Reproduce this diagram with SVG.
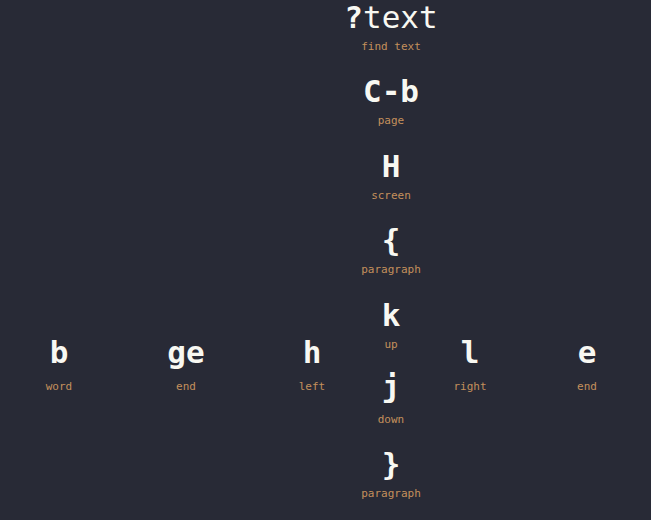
<svg xmlns="http://www.w3.org/2000/svg" width="651" height="520" viewBox="0 0 651 520">
<style>
.k{font-family:"DejaVu Sans Mono","Liberation Mono",monospace;font-size:31px;font-weight:bold;fill:#f8f8f2;text-anchor:middle}
.l{font-family:"DejaVu Sans Mono","Liberation Mono",monospace;font-size:11px;fill:#c4905c;text-anchor:middle}
</style>
<rect width="651" height="520" fill="#282a36"/>
<g id="find"><text class="k" x="391" y="28">?<tspan font-weight="normal">text</tspan></text><text class="l" x="391" y="50">find text</text></g>
<g id="page"><text class="k" x="391" y="102">C-b</text><text class="l" x="391" y="124">page</text></g>
<g id="screen"><text class="k" x="391" y="177">H</text><text class="l" x="391" y="199">screen</text></g>
<g id="paraup"><text class="k" x="391" y="251">{</text><text class="l" x="391" y="273">paragraph</text></g>
<g id="up"><text class="k" x="391" y="326">k</text><text class="l" x="391" y="348">up</text></g>
<g id="down"><text class="k" x="391" y="397">j</text><text class="l" x="391" y="423">down</text></g>
<g id="paradown"><text class="k" x="391" y="475">}</text><text class="l" x="391" y="497">paragraph</text></g>
<g id="word"><text class="k" x="59" y="363">b</text><text class="l" x="59" y="390">word</text></g>
<g id="gend"><text class="k" x="186" y="363">ge</text><text class="l" x="186" y="390">end</text></g>
<g id="left"><text class="k" x="312" y="363">h</text><text class="l" x="312" y="390">left</text></g>
<g id="right"><text class="k" x="470" y="363">l</text><text class="l" x="470" y="390">right</text></g>
<g id="end"><text class="k" x="587" y="363">e</text><text class="l" x="587" y="390">end</text></g>
<g id="connectors"></g>
</svg>
